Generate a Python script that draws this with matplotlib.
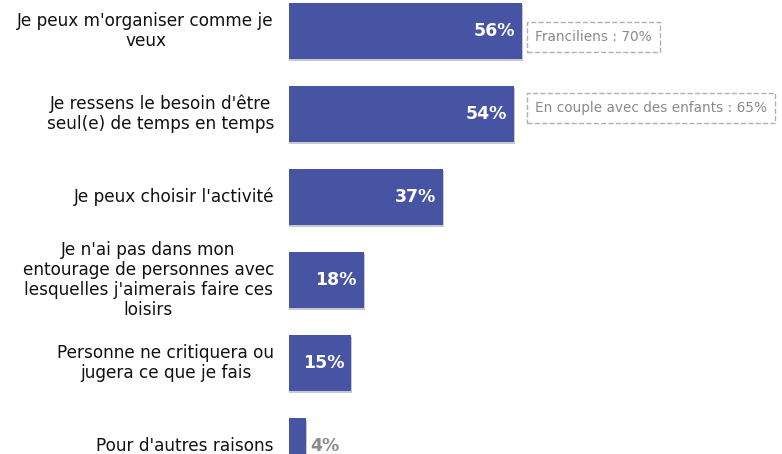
import matplotlib
matplotlib.use("Agg")
import matplotlib.pyplot as plt

labels = ["Je peux m'organiser comme je\nveux",
          "Je ressens le besoin d'être\nseul(e) de temps en temps",
          "Je peux choisir l'activité",
          "Je n'ai pas dans mon\nentourage de personnes avec\nlesquelles j'aimerais faire ces\nloisirs",
          "Personne ne critiquera ou\njugera ce que je fais",
          "Pour d'autres raisons"]
values = [56, 54, 37, 18, 15, 4]
notes = {0: "Franciliens : 70%", 1: "En couple avec des enfants : 65%"}

bar_col = "#4753A3"
W, H = 782, 454
fig = plt.figure(figsize=(W / 100, H / 100), dpi=100)
left = 289
ppu = 233 / 56.0
ax = fig.add_axes([left / W, 0, 1 - left / W, 1])
ax.set_xlim(0, (W - left) / ppu)
ax.set_ylim((H - 31) / 83.0, -31 / 83.0)
ax.axis("off")

ys = list(range(len(values)))
# soft shadow then bars
ax.barh([y + 0.02 for y in ys], [v + 0.25 for v in values], height=0.675,
        color="#c8c8d0", zorder=1)
ax.barh(ys, values, height=0.675, color=bar_col, zorder=2)

for y, v, lab in zip(ys, values, labels):
    fig.text(274 / W, 1 - (31 + 83 * y) / H, lab, ha="right", va="center",
             multialignment="center", fontsize=12.2, color="#111111",
             linespacing=1.12)
    if v >= 10:
        ax.text(v - 1.7, y, f"{v}%", ha="right", va="center", color="white",
                fontsize=12.5, fontweight="bold", zorder=3)
    else:
        ax.text(v + 1.0, y, f"{v}%", ha="left", va="center", color="#8c8c8c",
                fontsize=12.5, fontweight="bold", zorder=3)

note_dy = {0: 0.07, 1: -0.07}
for i, txt in notes.items():
    ax.text((535 - left) / ppu, i + note_dy[i], txt, ha="left", va="center",
            fontsize=9.8, color="#8a8a8a",
            bbox=dict(boxstyle="square,pad=0.6", fc="white", ec="#b0b0b0",
                      ls="--", lw=1.0))

fig.savefig("out.png", dpi=100)
